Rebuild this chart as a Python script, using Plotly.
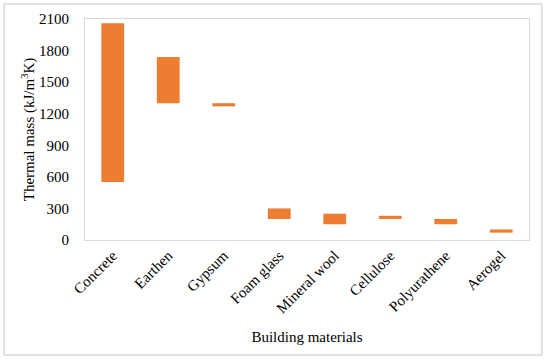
import plotly.graph_objects as go

materials = ["Concrete", "Earthen", "Gypsum", "Foam glass", "Mineral wool",
             "Cellulose", "Polyurathene", "Aerogel"]
low = [550, 1300, 1270, 200, 150, 200, 150, 70]
high = [2060, 1740, 1300, 300, 250, 230, 200, 100]
y_ticks = [0, 300, 600, 900, 1200, 1500, 1800, 2100]

span = [h - l for h, l in zip(high, low)]

fig = go.Figure(go.Bar(
    x=materials, y=span, base=low,
    marker=dict(color="#ED7D31", line=dict(width=0)),
    width=0.41, showlegend=False,
))

font = dict(family="Liberation Serif, Times New Roman, serif", color="#000000")

fig.update_layout(
    width=550, height=362,
    margin=dict(l=85, r=21, t=19, b=122, autoexpand=False),
    paper_bgcolor="white", plot_bgcolor="white",
    font=dict(**font, size=15),
    xaxis=dict(
        tickangle=-45, tickfont=dict(**font, size=15), automargin=False,
        showline=True, mirror=True, linecolor="#d9d9d9", linewidth=1,
        showgrid=False, ticks="",
        title=dict(text="Building materials", font=dict(**font, size=15), standoff=16),
    ),
    yaxis=dict(
        range=[0, 2100], tickvals=y_ticks, tickfont=dict(**font, size=15), automargin=False,
        showline=True, mirror=True, linecolor="#d9d9d9", linewidth=1,
        showgrid=False, zeroline=False, ticks="", ticklabelstandoff=12,
        title=dict(text="Thermal mass (kJ/m<sup>3</sup>K)", font=dict(**font, size=15), standoff=0),
    ),
    shapes=[dict(type="rect", xref="paper", yref="paper",
                 x0=-0.182, x1=1.029, y0=-0.520, y1=1.068,
                 line=dict(color="#d9d9d9", width=1.5), fillcolor="rgba(0,0,0,0)",
                 layer="below")],
)

fig.write_html("out.html", config={"displayModeBar": False},
               post_script="document.body.style.margin='0px';document.body.style.overflow='hidden';")
